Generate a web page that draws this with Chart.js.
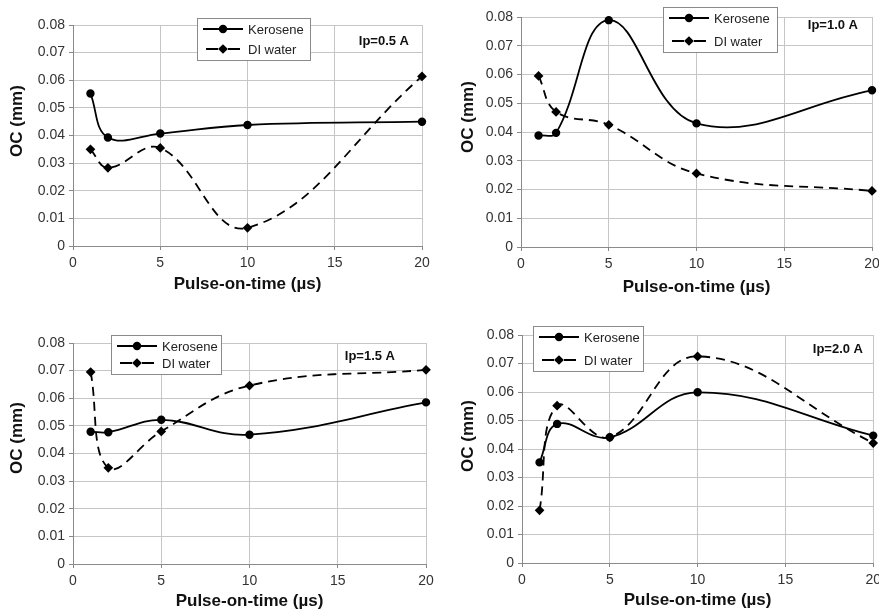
<!DOCTYPE html>
<html>
<head>
<meta charset="utf-8">
<script src="https://cdn.jsdelivr.net/npm/chart.js@4.4.1/dist/chart.umd.min.js"></script>
<style>
  html, body { margin: 0; padding: 0; background: #fff; }
  #wrap { position: relative; width: 879px; height: 612px; overflow: hidden; }
  #wrap canvas { position: absolute; }
</style>
</head>
<body>
<div id="wrap">
  <canvas id="c1" width="440" height="306" style="left:0;top:0"></canvas>
  <canvas id="c2" width="439" height="306" style="left:440px;top:0"></canvas>
  <canvas id="c3" width="440" height="306" style="left:0;top:306px"></canvas>
  <canvas id="c4" width="439" height="306" style="left:440px;top:306px"></canvas>
</div>
<script>
// pulse-on-time (us) and overcut (mm) for each peak current
const pulseOn = [1, 2, 5, 10, 20];

const kerosene05 = [0.0552, 0.0393, 0.0407, 0.0438, 0.0450];
const diWater05 = [0.0350, 0.0283, 0.0355, 0.0066, 0.0614];

const kerosene10 = [0.0388, 0.0397, 0.0789, 0.0430, 0.0545];
const diWater10 = [0.0595, 0.0470, 0.0425, 0.0256, 0.0195];

const kerosene15 = [0.0479, 0.0477, 0.0522, 0.0468, 0.0585];
const diWater15 = [0.0695, 0.0348, 0.0480, 0.0646, 0.0703];

const kerosene20 = [0.0353, 0.0488, 0.0441, 0.0599, 0.0447];
const diWater20 = [0.0185, 0.0552, 0.0441, 0.0725, 0.0421];

const currentLabels = ['Ip=0.5 A', 'Ip=1.0 A', 'Ip=1.5 A', 'Ip=2.0 A'];
const seriesNames = ['Kerosene', 'DI water'];
const xTitle = 'Pulse-on-time (\u00b5s)';
const yTitle = 'OC (mm)';

const FONT = '"Liberation Sans", Arial, Helvetica, sans-serif';

// per-panel placement of plot area, legend box and current tag
const panels = [
    { id: 'c1', kero: kerosene05, water: diWater05, pad: { top: 25, right: 18 }, yWidth: 73, xHeight: 60, xTitlePad: 11,
      yTitlePos: [17, 121], legend: { x: 197, y: 18, w: 113, gap: 20 }, tag: [409, 41] },
    { id: 'c2', kero: kerosene10, water: diWater10, pad: { top: 17, right: 7 }, yWidth: 81, xHeight: 59, xTitlePad: 8,
      yTitlePos: [28, 117], legend: { x: 223, y: 7, w: 114, gap: 23 }, tag: [418, 25] },
    { id: 'c3', kero: kerosene15, water: diWater15, pad: { top: 37, right: 14 }, yWidth: 73, xHeight: 48, xTitlePad: 0,
      yTitlePos: [17, 132], legend: { x: 111, y: 29, w: 110, gap: 17 }, tag: [395, 50] },
    { id: 'c4', kero: kerosene20, water: diWater20, pad: { top: 29, right: 3 }, yWidth: 82, xHeight: 49, xTitlePad: 1,
      yTitlePos: [28, 130], legend: { x: 93, y: 20, w: 110, gap: 23 }, tag: [423, 43] }
];

function toPoints(values) {
    return pulseOn.map((x, i) => ({ x: x, y: values[i] }));
}

// y-axis title, legend box and current tag drawn on top of each panel
const panelDecor = {
    id: 'panelDecor',
    afterDraw(chart, args, opts) {
        const ctx = chart.ctx;
        ctx.save();

        ctx.fillStyle = '#111';
        ctx.font = 'bold 17px ' + FONT;
        ctx.textAlign = 'center';
        ctx.textBaseline = 'middle';
        ctx.translate(opts.yTitlePos[0], opts.yTitlePos[1]);
        ctx.rotate(-Math.PI / 2);
        ctx.fillText(yTitle, 0, 0);
        ctx.setTransform(1, 0, 0, 1, 0, 0);

        const lg = opts.legend;
        const h = lg.gap + 22;
        ctx.fillStyle = '#fff';
        ctx.fillRect(lg.x, lg.y, lg.w, h);
        ctx.strokeStyle = '#8a8a8a';
        ctx.lineWidth = 1;
        ctx.strokeRect(lg.x + 0.5, lg.y + 0.5, lg.w, h);

        chart.data.datasets.forEach((ds, i) => {
            const y = lg.y + 11 + i * lg.gap;
            const sx = lg.x + 6;
            ctx.strokeStyle = '#000';
            ctx.lineWidth = 1.8;
            ctx.setLineDash([]);
            ctx.beginPath();
            if (ds.borderDash && ds.borderDash.length) {
                ctx.moveTo(sx + 3, y); ctx.lineTo(sx + 15, y);
                ctx.moveTo(sx + 25, y); ctx.lineTo(sx + 37, y);
            } else {
                ctx.moveTo(sx, y); ctx.lineTo(sx + 40, y);
            }
            ctx.stroke();
            ctx.fillStyle = '#000';
            Chart.helpers.drawPoint(ctx, {
                pointStyle: ds.pointStyle, rotation: 0, radius: ds.pointRadius, borderWidth: 1
            }, sx + 20, y);
            ctx.fillStyle = '#222';
            ctx.font = '13px ' + FONT;
            ctx.textAlign = 'left';
            ctx.textBaseline = 'middle';
            ctx.fillText(ds.label, sx + 45, y + 1);
        });

        ctx.fillStyle = '#111';
        ctx.font = 'bold 13px ' + FONT;
        ctx.textAlign = 'right';
        ctx.textBaseline = 'middle';
        ctx.fillText(opts.tag, opts.tagPos[0], opts.tagPos[1]);
        ctx.restore();
    }
};

function makePanel(p, idx) {
    const ctx = document.getElementById(p.id).getContext('2d');
    new Chart(ctx, {
        type: 'line',
        data: {
            datasets: [{
                label: seriesNames[0],
                data: toPoints(p.kero),
                borderColor: '#000',
                backgroundColor: '#000',
                borderWidth: 1.8,
                pointStyle: 'circle',
                pointRadius: 3.3,
                pointBackgroundColor: '#000',
                pointBorderColor: '#000',
                tension: 0.4,
                clip: false
            }, {
                label: seriesNames[1],
                data: toPoints(p.water),
                borderColor: '#000',
                backgroundColor: '#000',
                borderWidth: 1.8,
                borderDash: [9, 6],
                pointStyle: 'rectRot',
                pointRadius: 3.6,
                pointBackgroundColor: '#000',
                pointBorderColor: '#000',
                tension: 0.4,
                clip: false
            }]
        },
        options: {
            responsive: false,
            animation: false,
            devicePixelRatio: 1,
            layout: { padding: { left: 0, top: p.pad.top, right: p.pad.right, bottom: 0 } },
            plugins: {
                legend: { display: false },
                tooltip: { enabled: false },
                panelDecor: {
                    yTitlePos: p.yTitlePos,
                    legend: p.legend,
                    tag: currentLabels[idx],
                    tagPos: p.tag
                }
            },
            scales: {
                x: {
                    type: 'linear',
                    min: 0, max: 20,
                    ticks: { stepSize: 5, color: '#333', padding: 5, font: { family: FONT, size: 14 } },
                    grid: { color: '#c6c6c6', tickColor: '#888', tickLength: 4 },
                    border: { color: '#8a8a8a', width: 1 },
                    title: {
                        display: true, text: xTitle, color: '#111',
                        font: { family: FONT, size: 17, weight: 'bold' },
                        padding: { top: 0, bottom: p.xTitlePad }
                    },
                    afterFit(scale) {
                        scale.height = p.xHeight;
                        scale.paddingLeft = 0;
                        scale.paddingRight = 0;
                    }
                },
                y: {
                    min: 0, max: 0.08,
                    ticks: {
                        stepSize: 0.01, color: '#333', padding: 4,
                        font: { family: FONT, size: 14 },
                        callback: v => v === 0 ? '0' : v.toFixed(2)
                    },
                    grid: { color: '#c6c6c6', tickColor: '#888', tickLength: 4 },
                    border: { color: '#8a8a8a', width: 1 },
                    afterFit(scale) {
                        scale.width = p.yWidth;
                        scale.paddingTop = 0;
                        scale.paddingBottom = 0;
                    }
                }
            }
        },
        plugins: [panelDecor]
    });
}

panels.forEach(makePanel);
</script>
</body>
</html>
